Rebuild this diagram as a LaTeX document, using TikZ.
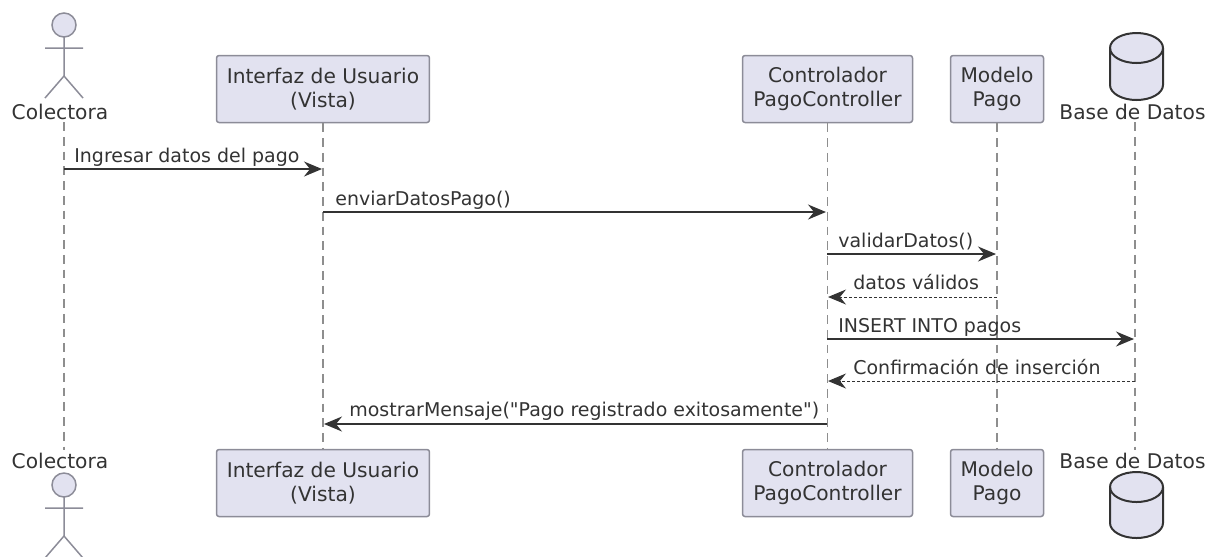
\documentclass[tikz,border=0pt]{standalone}
\usepackage{fontspec}
\setmainfont{DejaVu Sans}
\newfontfamily\msgfont{DejaVu Sans}
\usetikzlibrary{arrows.meta}

\definecolor{boxfill}{HTML}{E2E2F0}
\definecolor{boxline}{HTML}{8C8C98}
\definecolor{dashgrey}{HTML}{8E8E8E}
\definecolor{inktext}{HTML}{333333}

\tikzset{
    part/.style={draw=boxline, fill=boxfill, line width=0.03cm, rounded corners=0.05cm, align=center, text=inktext, font=\fontsize{11.5}{13.6}\selectfont, minimum height=1.34cm, inner sep=0pt},
    actorname/.style={text=inktext, font=\fontsize{11.5}{13.6}\selectfont, inner sep=0pt, minimum height=0.4cm},
    msgtext/.style={text=inktext, font=\msgfont\fontsize{10.8}{13}\selectfont, anchor=base west, inner sep=0pt},
    lifedash/.style={draw=dashgrey, line width=0.028cm, dash pattern=on 5pt off 3.4pt},
    call/.style={draw=inktext, line width=0.032cm, -{Stealth[length=0.36cm, width=0.3cm, inset=0.12cm]}},
    reply/.style={draw=inktext, line width=0.02cm, dash pattern=on 0.06cm off 0.04cm, -{Stealth[length=0.36cm, width=0.3cm, inset=0.12cm]}},
    stick/.style={draw=boxline, line width=0.03cm},
    drum/.style={draw=inktext, fill=boxfill, line width=0.04cm},
}

\begin{document}
\begin{tikzpicture}[x=0.02cm, y=-0.02cm]
            \useasboundingbox (0,0) rectangle (1212,556);

            % participants, top row
            \node[actorname] (ColTop) at (60,112) {Colectora};
            \node[part, minimum width=4.26cm] (VistaTop) at (323,89) {Interfaz de Usuario\\(Vista)};
            \node[part, minimum width=3.4cm] (CtrlTop) at (827.5,89) {Controlador\\PagoController};
            \node[part, minimum width=1.86cm] (ModTop) at (997,89) {Modelo\\Pago};
            \node[actorname] (DBTop) at (1132.5,112) {Base de Datos};

            % participants, bottom row
            \node[actorname] (ColBot) at (60,461) {Colectora};
            \node[part, minimum width=4.26cm] (VistaBot) at (323,483) {Interfaz de Usuario\\(Vista)};
            \node[part, minimum width=3.4cm] (CtrlBot) at (827.5,483) {Controlador\\PagoController};
            \node[part, minimum width=1.86cm] (ModBot) at (997,483) {Modelo\\Pago};
            \node[actorname] (DBBot) at (1132.5,461) {Base de Datos};

            % lifelines
            \coordinate (Cola) at (64,122);
            \coordinate (Colb) at (64,450);
            \coordinate (DBa) at (1135,122);
            \coordinate (DBb) at (1135,450);
            \draw[lifedash] (Cola) -- (Colb);
            \draw[lifedash] (VistaTop) -- (VistaBot);
            \draw[lifedash] (CtrlTop) -- (CtrlBot);
            \draw[lifedash] (ModTop) -- (ModBot);
            \draw[lifedash] (DBa) -- (DBb);

            % stick figures
            \draw[stick, fill=boxfill] (64,25) circle (12);
            \draw[stick] (64,37) -- (64,76) (45,48) -- (83,48) (45,98) -- (64,76) -- (83,98);
            \draw[stick, fill=boxfill] (64,485) circle (12);
            \draw[stick] (64,497) -- (64,536) (45,508) -- (83,508) (45,558) -- (64,536) -- (83,558);

            % drums
            \draw[drum] (1110,48) arc (180:360:26.5 and 15) -- (1163,85) arc (0:180:26.5 and 15) -- cycle;
            \draw[drum, fill=none] (1110,48) arc (180:0:26.5 and 15);
            \draw[drum] (1110,487) arc (180:360:26.5 and 15) -- (1163,523) arc (0:180:26.5 and 15) -- cycle;
            \draw[drum, fill=none] (1110,487) arc (180:0:26.5 and 15);

            % message ends
            \coordinate (ma) at (64,169);
            \coordinate (mb) at (322,169);
            \coordinate (na) at (323,212);
            \coordinate (nb) at (826,212);
            \coordinate (oa) at (827,254);
            \coordinate (ob) at (996,254);
            \coordinate (pa) at (997,297);
            \coordinate (pb) at (828,297);
            \coordinate (qa) at (827,339);
            \coordinate (qb) at (1134,339);
            \coordinate (ra) at (1135,381);
            \coordinate (rb) at (828,381);
            \coordinate (sa) at (827,424);
            \coordinate (sb) at (324,424);

            % messages
            \draw[call] (ma) -- (mb);
            \draw[call] (na) -- (nb);
            \draw[call] (oa) -- (ob);
            \draw[reply] (pa) -- (pb);
            \draw[call] (qa) -- (qb);
            \draw[reply] (ra) -- (rb);
            \draw[call] (sa) -- (sb);

            \node[msgtext] (ml) at (74,162.5) {Ingresar datos del pago};
            \node[msgtext] (nl) at (335,205) {enviarDatosPago()};
            \node[msgtext] (ol) at (838,247) {validarDatos()};
            \node[msgtext] (pl) at (853,289) {datos válidos};
            \node[msgtext] (ql) at (838,332) {INSERT INTO pagos};
            \node[msgtext] (rl) at (853,374) {Confirmación de inserción};
            \node[msgtext] (sl) at (349,416) {mostrarMensaje("Pago registrado exitosamente")};
        \end{tikzpicture}
\end{document}
